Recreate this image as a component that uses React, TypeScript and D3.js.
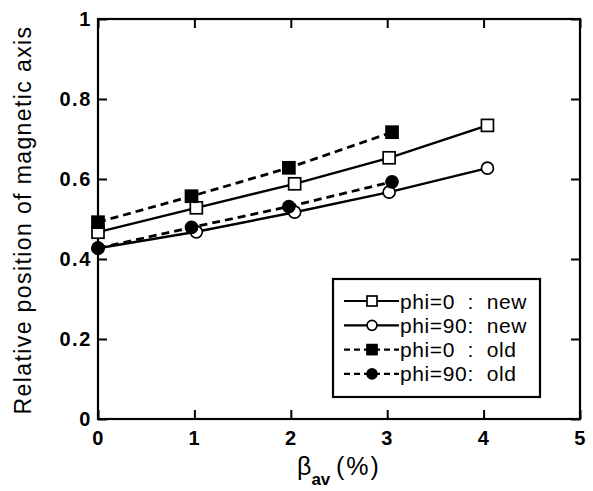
import React, { useEffect, useRef } from "react";
import * as d3 from "d3";

const W = 593;
const H = 491;
const M = { top: 19, right: 13, bottom: 72, left: 98 };

// beta_av (%) positions
const betaNew = [0, 1.02, 2.04, 3.02, 4.04];
const betaOld = [0, 0.97, 1.98, 3.05];

const newPhi0 = [0.467, 0.528, 0.588, 0.653, 0.734];
const newPhi90 = [0.427, 0.468, 0.517, 0.567, 0.627];
const oldPhi0 = [0.492, 0.557, 0.628, 0.717];
const oldPhi90 = [0.427, 0.479, 0.531, 0.593];

const xTicks = [0, 1, 2, 3, 4, 5];
const yTicks = [0, 0.2, 0.4, 0.6, 0.8, 1];

const legendNames = ["phi=0", "phi=90", "phi=0", "phi=90"];
const legendSuffix = [":  new", ":  new", ":  old", ":  old"];

type Pt = { x: number; y: number };
type Series = { pts: Pt[]; marker: "square" | "circle"; filled: boolean; dashed: boolean };

const zip = (xs: number[], ys: number[]): Pt[] => ys.map((y, i) => ({ x: xs[i], y }));

const series: Series[] = [
  { pts: zip(betaNew, newPhi0), marker: "square", filled: false, dashed: false },
  { pts: zip(betaNew, newPhi90), marker: "circle", filled: false, dashed: false },
  { pts: zip(betaOld, oldPhi0), marker: "square", filled: true, dashed: true },
  { pts: zip(betaOld, oldPhi90), marker: "circle", filled: true, dashed: true },
];

const FONT = "'Liberation Sans', Arial, Helvetica, sans-serif";

export default function App() {
  const svgRef = useRef<SVGSVGElement>(null);

  useEffect(() => {
    const svg = d3.select(svgRef.current);
    svg.selectAll("*").remove();

    const cw = W - M.left - M.right;
    const ch = H - M.top - M.bottom;

    const x = d3.scaleLinear().domain([0, 5]).range([0, cw]);
    const y = d3.scaleLinear().domain([0, 1]).range([ch, 0]);

    const g = svg.append("g").attr("transform", `translate(${M.left},${M.top})`);

    // inward ticks on all four sides
    const bottom = g
      .append("g")
      .attr("transform", `translate(0,${ch})`)
      .call(d3.axisBottom(x).tickValues(xTicks).tickSize(-9).tickPadding(12).tickFormat(d3.format("d")));
    const left = g
      .append("g")
      .call(
        d3
          .axisLeft(y)
          .tickValues(yTicks)
          .tickSize(-9)
          .tickPadding(6)
          .tickFormat((d) => (d === 0 || d === 1 ? String(d) : d3.format(".1f")(d as number)))
      );
    g.append("g").call(d3.axisTop(x).tickValues(xTicks).tickSize(-9).tickFormat(() => ""));
    g.append("g")
      .attr("transform", `translate(${cw},0)`)
      .call(d3.axisRight(y).tickValues(yTicks).tickSize(-9).tickFormat(() => ""));

    g.selectAll(".domain").remove();
    g.selectAll(".tick line").attr("stroke", "#000").attr("stroke-width", 2);
    [bottom, left].forEach((a) =>
      a
        .selectAll("text")
        .attr("fill", "#000")
        .style("font-family", FONT)
        .style("font-size", "20px")
        .style("font-weight", "bold")
        .style("letter-spacing", "1.6px")
    );

    g.append("rect")
      .attr("width", cw)
      .attr("height", ch)
      .attr("fill", "none")
      .attr("stroke", "#000")
      .attr("stroke-width", 2.2);

    const line = d3
      .line<Pt>()
      .x((d) => x(d.x))
      .y((d) => y(d.y));

    const drawMarker = (sel: any, s: Series, px: number, py: number, size: number) => {
      if (s.marker === "square") {
        sel
          .append("rect")
          .attr("x", px - size / 2)
          .attr("y", py - size / 2)
          .attr("width", size)
          .attr("height", size)
          .attr("fill", s.filled ? "#000" : "#fff")
          .attr("stroke", "#000")
          .attr("stroke-width", 1.7);
      } else {
        sel
          .append("circle")
          .attr("cx", px)
          .attr("cy", py)
          .attr("r", size / 2)
          .attr("fill", s.filled ? "#000" : "#fff")
          .attr("stroke", "#000")
          .attr("stroke-width", 1.7);
      }
    };

    // lines
    series.forEach((s) => {
      g.append("path")
        .datum(s.pts)
        .attr("fill", "none")
        .attr("stroke", "#000")
        .attr("stroke-width", s.dashed ? 2.8 : 2.4)
        .attr("stroke-dasharray", s.dashed ? "8,5" : null)
        .attr("d", line);
    });

    // markers
    series.forEach((s) => {
      const mg = g.append("g");
      s.pts.forEach((p) => drawMarker(mg, s, x(p.x), y(p.y), 12));
    });

    // legend
    const lg = svg.append("g").attr("transform", "translate(333,279)");
    lg.append("rect")
      .attr("width", 207)
      .attr("height", 118)
      .attr("fill", "#fff")
      .attr("stroke", "#000")
      .attr("stroke-width", 2.2);

    series.forEach((s, i) => {
      const ry = 22 + i * 24.3;
      const row = lg.append("g");
      row
        .append("line")
        .attr("x1", 11)
        .attr("x2", 66)
        .attr("y1", ry)
        .attr("y2", ry)
        .attr("stroke", "#000")
        .attr("stroke-width", 2.2)
        .attr("stroke-dasharray", s.dashed ? "6,4" : null);
      drawMarker(row, s, 39, ry, 10);
      row
        .append("text")
        .attr("x", 67)
        .attr("y", ry + 7.5)
        .style("font-family", FONT)
        .style("font-size", "21px")
        .style("letter-spacing", "0.6px")
        .text(legendNames[i]);
      row
        .append("text")
        .attr("x", 134.5)
        .attr("y", ry + 7.5)
        .style("font-family", FONT)
        .style("font-size", "21px")
        .style("letter-spacing", "0.6px")
        .style("white-space", "pre")
        .text(legendSuffix[i]);
    });

    // y axis title
    svg
      .append("text")
      .attr("transform", `translate(31,${M.top + ch / 2 + 1}) rotate(-90)`)
      .attr("text-anchor", "middle")
      .style("font-family", FONT)
      .style("font-size", "23px")
      .style("letter-spacing", "1.4px")
      .text("Relative position of magnetic axis");

    // x axis title
    const xt = svg
      .append("text")
      .attr("x", 297)
      .attr("y", 475)
      .style("font-family", FONT)
      .style("font-size", "25px");
    xt.append("tspan").text("β");
    xt.append("tspan")
      .attr("dy", 10)
      .style("font-size", "17px")
      .style("font-weight", "bold")
      .text("av");
    xt.append("tspan")
      .attr("x", 336)
      .attr("y", 475)
      .style("letter-spacing", "2px")
      .text("(%)");
  }, []);

  return (
    <div style={{ position: "absolute", left: 0, top: 0, width: W, height: H, background: "#fff" }}>
      <svg ref={svgRef} width={W} height={H} />
    </div>
  );
}
